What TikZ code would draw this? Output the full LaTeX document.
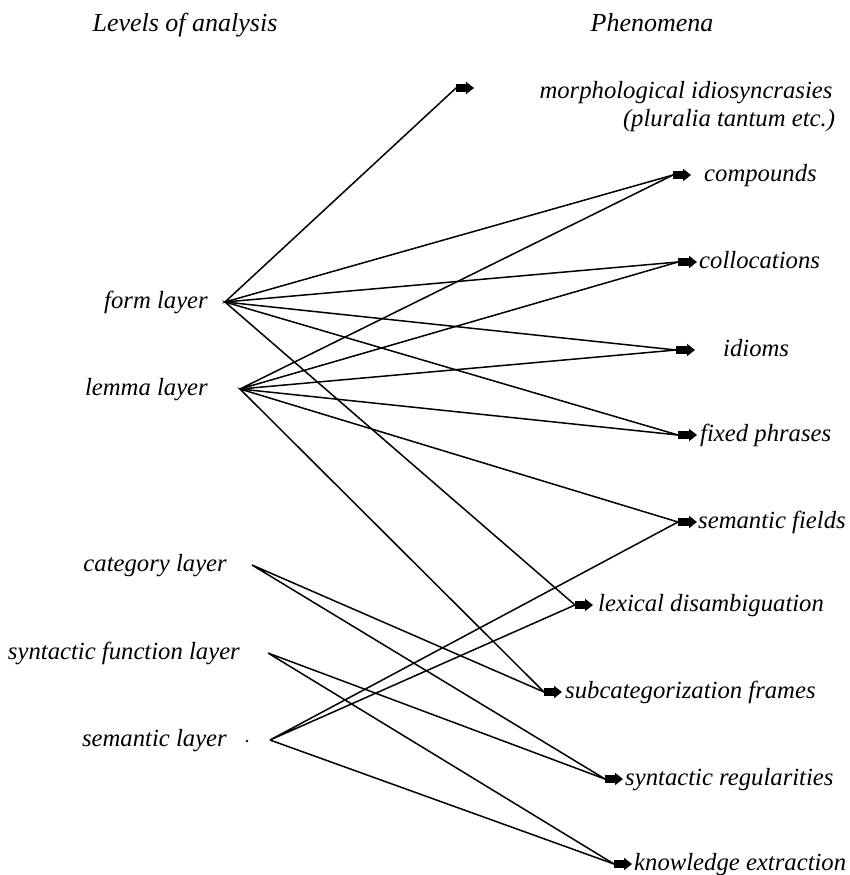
\documentclass[tikz,border=0pt]{standalone}
\usepackage{fontspec}
\setmainfont{Liberation Serif}
\usetikzlibrary{arrows.meta}
\newcommand{\labelfont}{\fontsize{24.7}{28}\selectfont\itshape}
\newcommand{\headfont}{\fontsize{26}{30}\selectfont\itshape}
\newcommand{\phenom}[6]{
	\coordinate (#1) at (#2,#4);
	\coordinate (#1tip) at (#3,#4);
	\draw[phenarrow] (#1) -- (#1tip);
	\node[phen] (#1txt) at (#5,#4) {#6};
}
\tikzset{
	lev/.style={anchor=east, inner sep=0pt, text height=17pt, text depth=5pt, font=\labelfont},
	phen/.style={anchor=west, inner sep=0pt, text height=17pt, text depth=5pt, font=\labelfont},
	head/.style={inner sep=0pt, font=\headfont},
	phenarrow/.style={line width=8pt, -{Triangle[length=8pt,width=12pt]}},
	link/.style={line width=1.5pt}
}

\begin{document}
\begin{tikzpicture}[x=1pt,y=-1pt]
	\useasboundingbox (0,0) rectangle (849,875);
	\node[head] (levels) at (185,25) {Levels of analysis};
	\node[head] (phenomena) at (652,23) {Phenomena};

	\node[lev] (formtxt) at (208,302) {form layer};
	\node[lev] (lemmatxt) at (208,389) {lemma layer};
	\node[lev] (categorytxt) at (227,565) {category layer};
	\node[lev] (synfunctxt) at (240,653) {syntactic function layer};
	\node[lev] (semantictxt) at (227,740) {semantic layer};
	\fill (247,741) circle (1.3);

	\coordinate (form) at (225,302);
	\coordinate (lemma) at (240,389);
	\coordinate (category) at (252,565);
	\coordinate (synfunc) at (268,653);
	\coordinate (semantic) at (270,740);

	\coordinate (morph) at (456,88);
	\coordinate (morphtip) at (474,88);
	\draw[phenarrow] (morph) -- (morphtip);
	\node[anchor=base, inner sep=0pt, font=\labelfont] (morphtxt) at (686,98) {morphological idiosyncrasies};
	\node[anchor=base, inner sep=0pt, font=\labelfont] (pluraliatxt) at (729,126) {(pluralia tantum etc.)};

	\phenom{compounds}{673}{691}{175}{704}{compounds}
	\phenom{collocations}{678}{697}{262}{699}{collocations}
	\phenom{idioms}{676}{695}{350}{723}{idioms}
	\phenom{fixed}{678}{697}{435}{700}{fixed phrases}
	\phenom{semfields}{678}{697}{522}{698}{semantic fields}
	\phenom{lexical}{575}{593}{605}{598}{lexical disambiguation}
	\phenom{subcat}{544}{562}{692}{565}{subcategorization frames}
	\phenom{synreg}{605}{623}{779}{625}{syntactic regularities}
	\phenom{knowledge}{614}{632}{864}{634}{knowledge extraction}

	\draw[link] (morph) -- (form) -- (compounds);
	\draw[link] (collocations) -- (form) -- (idioms);
	\draw[link] (fixed) -- (form) -- (lexical);
	\draw[link] (compounds) -- (lemma) -- (collocations);
	\draw[link] (idioms) -- (lemma) -- (fixed);
	\draw[link] (semfields) -- (lemma) -- (subcat);
	\draw[link] (subcat) -- (category) -- (synreg);
	\draw[link] (synreg) -- (synfunc) -- (knowledge);
	\draw[link] (semfields) -- (semantic) -- (lexical);
	\draw[link] (semantic) -- (knowledge);
\end{tikzpicture}
\end{document}
